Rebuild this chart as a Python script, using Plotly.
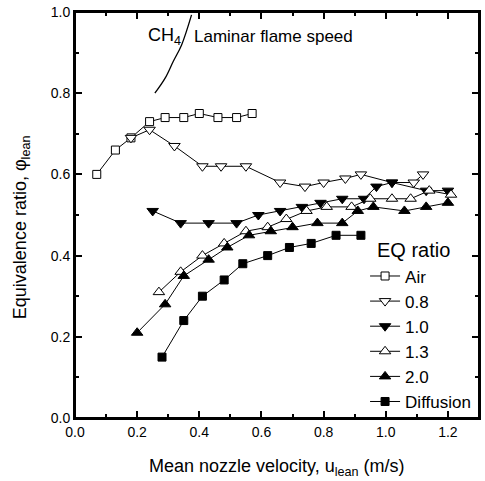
import plotly.graph_objects as go

# ---- data ----
air_x = [0.07, 0.13, 0.18, 0.24, 0.29, 0.35, 0.40, 0.46, 0.52, 0.57]
air_y = [0.60, 0.66, 0.69, 0.73, 0.74, 0.74, 0.75, 0.74, 0.74, 0.75]

eq08_x = [0.18, 0.24, 0.32, 0.41, 0.47, 0.55, 0.66, 0.74, 0.80, 0.87, 0.92, 1.02, 1.09, 1.12]
eq08_y = [0.69, 0.71, 0.67, 0.62, 0.62, 0.62, 0.58, 0.57, 0.58, 0.59, 0.60, 0.58, 0.58, 0.60]

eq10_x = [0.25, 0.34, 0.43, 0.52, 0.59, 0.66, 0.73, 0.79, 0.86, 0.93, 0.97, 1.02, 1.13, 1.20]
eq10_y = [0.51, 0.48, 0.48, 0.48, 0.50, 0.51, 0.52, 0.53, 0.54, 0.54, 0.57, 0.58, 0.56, 0.56]

eq13_x = [0.27, 0.34, 0.41, 0.48, 0.55, 0.62, 0.68, 0.745, 0.81, 0.89, 0.95, 1.02, 1.08, 1.14, 1.21]
eq13_y = [0.31, 0.36, 0.40, 0.43, 0.46, 0.47, 0.49, 0.51, 0.52, 0.52, 0.54, 0.54, 0.54, 0.56, 0.55]

eq20_x = [0.20, 0.29, 0.35, 0.43, 0.49, 0.56, 0.63, 0.70, 0.78, 0.86, 0.91, 0.96, 1.06, 1.13, 1.20]
eq20_y = [0.21, 0.28, 0.35, 0.39, 0.42, 0.45, 0.46, 0.47, 0.48, 0.48, 0.51, 0.52, 0.51, 0.52, 0.53]

diff_x = [0.28, 0.35, 0.41, 0.48, 0.54, 0.62, 0.69, 0.76, 0.84, 0.92]
diff_y = [0.15, 0.24, 0.30, 0.34, 0.38, 0.40, 0.42, 0.43, 0.45, 0.45]

flame_x = [0.257, 0.29, 0.316, 0.343, 0.375]
flame_y = [0.80, 0.837, 0.878, 0.919, 0.993]

x_ticks = [0.0, 0.2, 0.4, 0.6, 0.8, 1.0, 1.2]
y_ticks = [0.0, 0.2, 0.4, 0.6, 0.8, 1.0]

FONT = "Liberation Sans, Arial, sans-serif"

series = [
    ("Air", air_x, air_y, "square", "white", 8),
    ("0.8", eq08_x, eq08_y, "triangle-down", "white", 10),
    ("1.0", eq10_x, eq10_y, "triangle-down", "black", 10),
    ("1.3", eq13_x, eq13_y, "triangle-up", "white", 10),
    ("2.0", eq20_x, eq20_y, "triangle-up", "black", 10),
    ("Diffusion", diff_x, diff_y, "square", "black", 8),
]

fig = go.Figure()

fig.add_trace(go.Scatter(
    x=flame_x, y=flame_y, mode="lines", line=dict(color="black", width=1.3, shape="spline"),
    showlegend=False, hoverinfo="skip"))

for i, (name, xs, ys, sym, fill, sz) in enumerate(series):
    fig.add_trace(go.Scatter(
        x=xs, y=ys, name=name, mode="lines+markers", legendgroup=f"g{i}",
        line=dict(color="black", width=1),
        marker=dict(symbol=sym, size=sz, color=fill, line=dict(color="black", width=1)),
    ))

axis_common = dict(
    showline=True, linecolor="black", linewidth=2, mirror="ticks",
    ticks="inside", ticklen=7, tickwidth=1.5, tickcolor="black",
    showgrid=False, zeroline=False, automargin=False,
    ticklabeloverflow="allow",
    tickfont=dict(family=FONT, size=14, color="black"),
    tickformat=".1f",
)

fig.update_xaxes(
    range=[0, 1.3], tickvals=x_ticks, **axis_common,
    minor=dict(ticks="inside", ticklen=4, dtick=0.1, tickcolor="black", tickwidth=1.5, showgrid=False),
)
fig.update_yaxes(
    range=[0, 1.0], tickvals=y_ticks, **axis_common,
    minor=dict(ticks="inside", ticklen=4, dtick=0.1, tickcolor="black", tickwidth=1.5, showgrid=False),
)

# plot frame
fig.add_shape(type="rect", xref="paper", yref="paper", x0=0, y0=0, x1=1, y1=1,
              line=dict(color="black", width=2), fillcolor="rgba(0,0,0,0)", layer="above")

# axis titles
fig.add_annotation(x=0.5, y=0, xref="paper", yref="paper",
                   text="Mean nozzle velocity, u<sub>lean</sub> (m/s)",
                   showarrow=False, xanchor="center", yanchor="middle", yshift=-49,
                   font=dict(family=FONT, size=18, color="black"))
fig.add_annotation(x=0, y=0.47, xref="paper", yref="paper",
                   text="Equivalence ratio, φ<sub>lean</sub>", textangle=-90,
                   showarrow=False, xanchor="center", yanchor="middle", xshift=-54,
                   font=dict(family=FONT, size=18, color="black"))

fig.add_annotation(x=0.347, y=0.94, xref="x", yref="y", text="CH<sub>4</sub>",
                   showarrow=False, xanchor="right", yanchor="middle",
                   font=dict(family=FONT, size=18, color="black"))
fig.add_annotation(x=0.376, y=0.94, xref="x", yref="y", text="Laminar flame speed",
                   showarrow=False, xanchor="left", yanchor="middle",
                   font=dict(family=FONT, size=17, color="black"))
fig.add_annotation(x=0.743, y=0.414, xref="paper", yref="paper", text="EQ ratio",
                   showarrow=False, xanchor="left", yanchor="middle",
                   font=dict(family=FONT, size=20, color="black"))

fig.update_layout(
    width=485, height=481,
    margin=dict(l=75, r=6, t=12, b=63, autoexpand=False),
    paper_bgcolor="white", plot_bgcolor="white",
    showlegend=True,
    legend=dict(x=0.718, y=0.393, xanchor="left", yanchor="top",
                bgcolor="rgba(0,0,0,0)", traceorder="grouped", tracegroupgap=0,
                font=dict(family=FONT, size=17, color="black"), itemwidth=30),
    font=dict(family=FONT, color="black"),
)

# remove the browser's default 8px page margin so the figure fills the window
fig.write_html("out.html", config={"displayModeBar": False},
               post_script="document.body.style.margin='0';")
